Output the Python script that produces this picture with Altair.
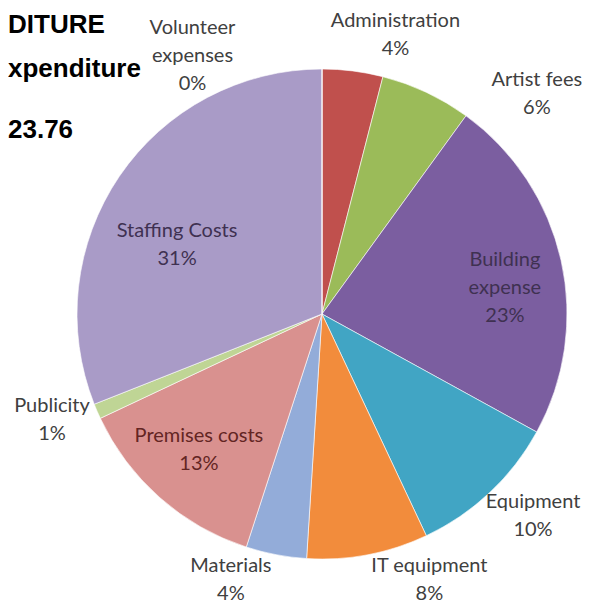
import math
import altair as alt
import pandas as pd

# ---- data ----
categories = ["Administration", "Artist fees", "Building expense", "Equipment",
              "IT equipment", "Materials", "Premises costs", "Publicity",
              "Staffing Costs", "Volunteer expenses"]
percent = [4, 6, 23, 10, 8, 4, 13, 1, 31, 0]

# label text wrapping as in the reference
label_names = ["Administration", "Artist fees", "Building\nexpense", "Equipment",
               "IT equipment", "Materials", "Premises costs", "Publicity",
               "Staffing Costs", "Volunteer\nexpenses"]

# ---- styling / placement (not data) ----
slice_colors = ["#C0504D", "#9BBB59", "#7B5EA0", "#41A5C4", "#F28C3C",
                "#93ACD9", "#D9918F", "#BFD595", "#A99BC7", "#92CDDC"]
label_colors = ["#404040", "#404040", "#3F3151", "#404040", "#404040",
                "#404040", "#632523", "#404040", "#3F3151", "#404040"]
# label block centre: position around the circle (theta-scale units) and radius fraction
label_at = [4.1, 12.3, 22.75, 37.15, 43.9, 55.25, 61.7, 69.05, 82.06, 92.6]
label_r = [1.177, 1.256, 0.754, 1.192, 1.172, 1.148, 0.749, 1.184, 0.655, 1.179]

header_lines = ["DITURE", "xpenditure", "23.76"]
header_baselines = [11, 55, 116]

R = 245
W, H = 522, 584
PL, PT = 53, 14
LH = 28

labels_txt = [f"{n}\n{p}%" for n, p in zip(label_names, percent)]

# Vega puts the first line of a multi-line text at the anchor, so move the
# anchor up by half the block height to centre the block on the placement.
first_at, first_r = [], []
for t, r, txt in zip(label_at, label_r, labels_txt):
    n = txt.count("\n")
    a = t / 100 * 2 * math.pi
    x = r * R * math.sin(a)
    y = -r * R * math.cos(a) - n * LH / 2
    first_r.append(math.hypot(x, y) / R)
    first_at.append((math.atan2(x, -y) % (2 * math.pi)) / (2 * math.pi) * 100)

df = pd.DataFrame({
    "category": categories,
    "value": percent,
    "idx": list(range(len(categories))),
    "label": labels_txt,
    "label_at": first_at,
    "label_r": first_r,
    "tcolor": label_colors,
})

theta_scale = alt.Scale(domain=[0, 100])

pie = alt.Chart(df).mark_arc(outerRadius=R, stroke="#ffffff", strokeWidth=0.6).encode(
    theta=alt.Theta("value:Q", stack=True, scale=theta_scale),
    color=alt.Color("category:N", scale=alt.Scale(domain=categories, range=slice_colors), legend=None),
    order=alt.Order("idx:Q"),
)

labels = alt.Chart(df).mark_text(
    font="Lato", fontSize=20, lineHeight=LH, lineBreak="\n",
    align="center", baseline="middle",
).encode(
    theta=alt.Theta("label_at:Q", stack=False, scale=theta_scale),
    radius=alt.Radius("label_r:Q", scale=alt.Scale(type="linear", domain=[0, 1], range=[0, R], zero=True)),
    text="label:N",
    fill=alt.Fill("tcolor:N", scale=None),
)

headers = []
for line, yb in zip(header_lines, header_baselines):
    headers.append(
        alt.Chart(pd.DataFrame({"t": [line]})).mark_text(
            font="Liberation Sans", fontSize=26, fontWeight="bold",
            align="left", baseline="alphabetic", color="#000000",
        ).encode(text="t:N", x=alt.value(-PL), y=alt.value(yb))
    )

chart = alt.layer(pie, labels, *headers).properties(
    width=W, height=H,
    padding={"left": PL, "top": PT, "right": 0, "bottom": 0},
    autosize="none",
    background="#ffffff",
).configure_view(stroke=None)

chart.save("out.html", embed_options={"renderer": "svg", "actions": False})
